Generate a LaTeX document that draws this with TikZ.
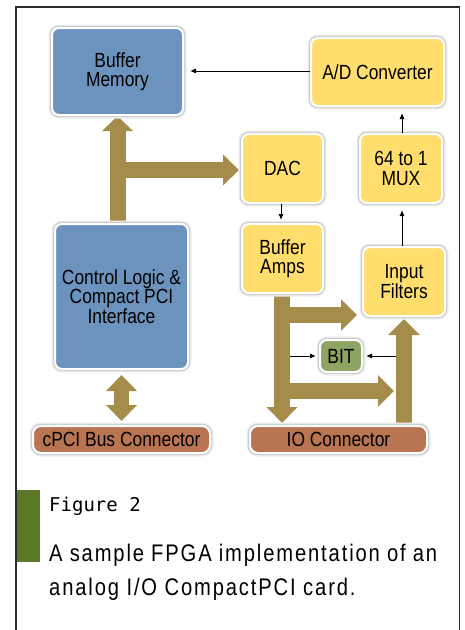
\documentclass[tikz,border=0pt]{standalone}
\usepackage{fontspec}
\setmainfont{Liberation Sans}[FakeStretch=0.85]
\newfontfamily\capfont{Liberation Sans}[FakeStretch=0.84,LetterSpace=7.8]
\newfontfamily\figfont{DejaVu Sans Mono}
\usetikzlibrary{arrows.meta,backgrounds,calc}
\definecolor{blueb}{HTML}{6C93BE}
\definecolor{yel}{HTML}{FFDE6D}
\definecolor{brn}{HTML}{B97552}
\definecolor{grn}{HTML}{8DA563}
\definecolor{busc}{HTML}{A68C4A}
\definecolor{barc}{HTML}{5A7828}
\definecolor{framec}{HTML}{2B2B2B}
\tikzset{
  blk/.style={rounded corners=7pt, draw=white, line width=2pt, align=center,
    inner sep=0pt, font=\fontsize{20.5}{19.3}\selectfont,
    preaction={draw=black!7, line width=7pt},
    preaction={draw=black!20, line width=4.4pt}},
  fat/.style={draw=busc, line width=16pt},
  thin/.style={draw=black, line width=1pt, -{Latex[length=6pt,width=5pt]}},
}
\begin{document}
\begin{tikzpicture}[x=1pt,y=-1pt]
\useasboundingbox (0,0) rectangle (464,630);
% frame
\fill[barc] (16,490) rectangle (40,562);
\draw[framec, line width=1.6pt] (16,632) -- (16,7) -- (459.5,7) -- (459.5,632);
% blocks
\node[blk, fill=blueb, minimum width=131pt, minimum height=87pt] (bufmem) at (117.5,71.5) {Buffer\\Memory};
\node[blk, fill=yel, minimum width=133pt, minimum height=68pt] (adc) at (377.5,72) {A/D Converter};
\node[blk, fill=yel, minimum width=81pt, minimum height=69pt] (dac) at (282.5,168.5) {DAC};
\node[blk, fill=yel, minimum width=82pt, minimum height=69pt] (mux) at (401,168.5) {64 to 1\\MUX};
\node[blk, fill=yel, minimum width=81pt, minimum height=69pt] (bamps) at (282.5,258.5) {Buffer\\Amps};
\node[blk, fill=yel, minimum width=82pt, minimum height=69pt] (infilt) at (404,281.5) {Input\\Filters};
\node[blk, fill=blueb, minimum width=133pt, minimum height=145pt] (ctrl) at (121.5,296.5) {Control Logic \&\\Compact PCI\\Interface};
\node[blk, fill=brn, rounded corners=8pt, minimum width=177pt, minimum height=27pt] (cpci) at (121.5,439.5) {cPCI Bus Connector};
\node[blk, fill=brn, rounded corners=8pt, minimum width=177pt, minimum height=27pt] (ioc) at (338.5,439.5) {IO Connector};
\node[blk, fill=grn, rounded corners=7pt, minimum width=42pt, minimum height=32pt] (bit) at (341,356) {BIT};
% bus coordinates
\coordinate (lb) at (bufmem.south |- ctrl.north);
\coordinate (lj) at (bufmem.south |- 0,170);
\coordinate (rb) at (282,294);
\coordinate (ru) at (282,315);
\coordinate (rl) at (282,391);
\coordinate (rd) at (282,425);
\coordinate (ruend) at (infilt.west |- ru);
\coordinate (rlend) at (396,391);
\coordinate (fb) at (404,425);
\coordinate (ft) at (404,317);
\coordinate (bl) at (290,356);
\coordinate (br) at (396,356);
% fat buses
\begin{scope}[on background layer]
\draw[fat, -{Triangle[width=30pt,length=15pt]}] (lb) -- (bufmem.south);
\draw[fat, -{Triangle[width=30pt,length=16pt]}, shorten >=2pt] (lj) -- (lj -| dac.west);
\draw[fat, line width=15pt, {Triangle[width=30pt,length=16pt]}-{Triangle[width=30pt,length=16pt]}, shorten <=5pt, shorten >=4pt] (ctrl.south) -- (ctrl.south |- cpci.north);
\draw[fat, -{Triangle[width=30pt,length=16pt]}, shorten >=2pt] (rb) -- (rd);
\draw[fat, -{Triangle[width=31pt,length=16pt]}, shorten >=5pt] (ru) -- (ruend);
\draw[fat, -{Triangle[width=31pt,length=16pt]}, shorten >=2pt] (rl) -- (rlend);
\draw[fat, -{Triangle[width=31pt,length=16pt]}, shorten >=2pt] (fb) -- (ft);
\end{scope}
% thin arrows
\draw[thin, shorten >=6pt] (adc.west |- 0,71) -- (bufmem.east |- 0,71);
\draw[thin, shorten >=6pt] (402,0 |- mux.north) -- (402,0 |- adc.south);
\draw[thin, shorten >=6pt] (402,0 |- infilt.north) -- (402,0 |- mux.south);
\draw[thin, shorten >=3pt] (281,0 |- dac.south) -- (281,0 |- bamps.north);
\draw[thin, shorten >=3pt] (bl) -- (bit.west);
\draw[thin, shorten >=3pt] (br) -- (bit.east);
% caption
\node[anchor=base west, inner sep=0pt, font=\figfont\fontsize{19}{19}\selectfont] (fig) at (49,511) {Figure 2};
\node[anchor=base west, inner sep=0pt, font=\capfont\fontsize{24}{24}\selectfont] (cap1) at (49,561) {\makebox[388pt][s]{A sample FPGA implementation of an}};
\node[anchor=base west, inner sep=0pt, font=\capfont\fontsize{24}{24}\selectfont] (cap2) at (49,595) {analog I/O CompactPCI card.};
\end{tikzpicture}
\end{document}
